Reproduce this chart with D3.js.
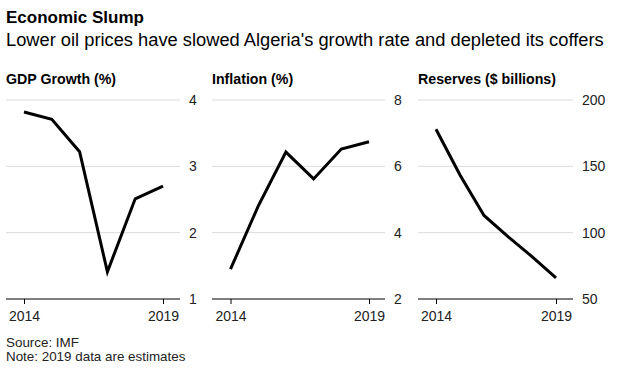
<!DOCTYPE html>
<html>
<head>
<meta charset="utf-8">
<script src="https://cdn.jsdelivr.net/npm/d3@7"></script>
<style>
  body { margin: 0; background: #fff; }
  svg text { font-family: "Liberation Sans", Arial, sans-serif; }
</style>
</head>
<body>
<div id="chart"></div>
<script>
// data
var years = [2014, 2015, 2016, 2017, 2018, 2019];
var gdpGrowth = [3.82, 3.71, 3.22, 1.41, 2.51, 2.70];
var inflation = [2.9, 4.8, 6.43, 5.62, 6.52, 6.74];
var reserves = [178, 143.5, 113, 97, 82, 66];

var gdpTicks = [1, 2, 3, 4];
var inflationTicks = [2, 4, 6, 8];
var reserveTicks = [50, 100, 150, 200];
var yearTicks = [2014, 2019];

var width = 636, height = 391;
var plotTop = 100, plotBottom = 299;

var svg = d3.select("#chart").append("svg")
  .attr("width", width)
  .attr("height", height);

// header
svg.append("text")
  .attr("x", 6).attr("y", 23)
  .style("font-size", "17px").style("font-weight", "bold")
  .attr("fill", "#000")
  .text("Economic Slump");
svg.append("text")
  .attr("x", 6).attr("y", 46)
  .style("font-size", "18.3px")
  .attr("fill", "#000")
  .text("Lower oil prices have slowed Algeria's growth rate and depleted its coffers");

// panels: grid from gx0 to gx1, years placed from px0 to px1
var panels = [
  {title: "GDP Growth (%)", values: gdpGrowth, ticks: gdpTicks, gx0: 6, gx1: 180, px0: 24, px1: 163},
  {title: "Inflation (%)", values: inflation, ticks: inflationTicks, gx0: 212, gx1: 385, px0: 230.5, px1: 369},
  {title: "Reserves ($ billions)", values: reserves, ticks: reserveTicks, gx0: 418, gx1: 573, px0: 436, px1: 556}
];

panels.forEach(function(p) {
  var x = d3.scaleLinear()
    .domain([years[0], years[years.length - 1]])
    .range([p.px0, p.px1]);
  var y = d3.scaleLinear()
    .domain(d3.extent(p.ticks))
    .range([plotBottom, plotTop]);

  var g = svg.append("g");

  g.append("text")
    .attr("x", p.gx0).attr("y", 84)
    .style("font-size", "14.2px").style("font-weight", "bold")
    .attr("fill", "#000")
    .text(p.title);

  // gridlines
  g.selectAll(".grid")
    .data(p.ticks.slice(1))
    .enter().append("line")
    .attr("x1", p.gx0).attr("x2", p.gx1)
    .attr("y1", function(d) { return y(d); })
    .attr("y2", function(d) { return y(d); })
    .attr("stroke", "#dcdcdc")
    .attr("stroke-width", 1);

  // y axis on the right
  var yAxis = g.append("g")
    .attr("transform", "translate(" + p.gx1 + ",0)")
    .call(d3.axisRight(y).tickValues(p.ticks).tickFormat(d3.format("d")).tickSize(0).tickPadding(9));
  yAxis.select(".domain").remove();
  yAxis.selectAll("text")
    .style("font-size", "14px")
    .attr("fill", "#222");

  // x axis
  g.append("line")
    .attr("x1", p.gx0).attr("x2", p.gx1)
    .attr("y1", plotBottom).attr("y2", plotBottom)
    .attr("stroke", "#000").attr("stroke-width", 1.2);
  var xAxis = g.append("g")
    .attr("transform", "translate(0," + plotBottom + ")")
    .call(d3.axisBottom(x).tickValues(yearTicks).tickFormat(d3.format("d")).tickSize(5).tickPadding(7));
  xAxis.select(".domain").remove();
  xAxis.selectAll("line").attr("stroke", "#000");
  xAxis.selectAll("text")
    .style("font-size", "14px")
    .attr("fill", "#222");

  var line = d3.line()
    .x(function(d, i) { return x(years[i]); })
    .y(function(d) { return y(d); });

  g.append("path")
    .datum(p.values)
    .attr("fill", "none")
    .attr("stroke", "#000")
    .attr("stroke-width", 3)
    .attr("stroke-linejoin", "miter")
    .attr("d", line);
});

// footer
svg.append("text")
  .attr("x", 6).attr("y", 347)
  .style("font-size", "13.4px")
  .attr("fill", "#222")
  .text("Source: IMF");
svg.append("text")
  .attr("x", 6).attr("y", 361)
  .style("font-size", "13.4px")
  .attr("fill", "#222")
  .text("Note: 2019 data are estimates");
</script>
</body>
</html>
